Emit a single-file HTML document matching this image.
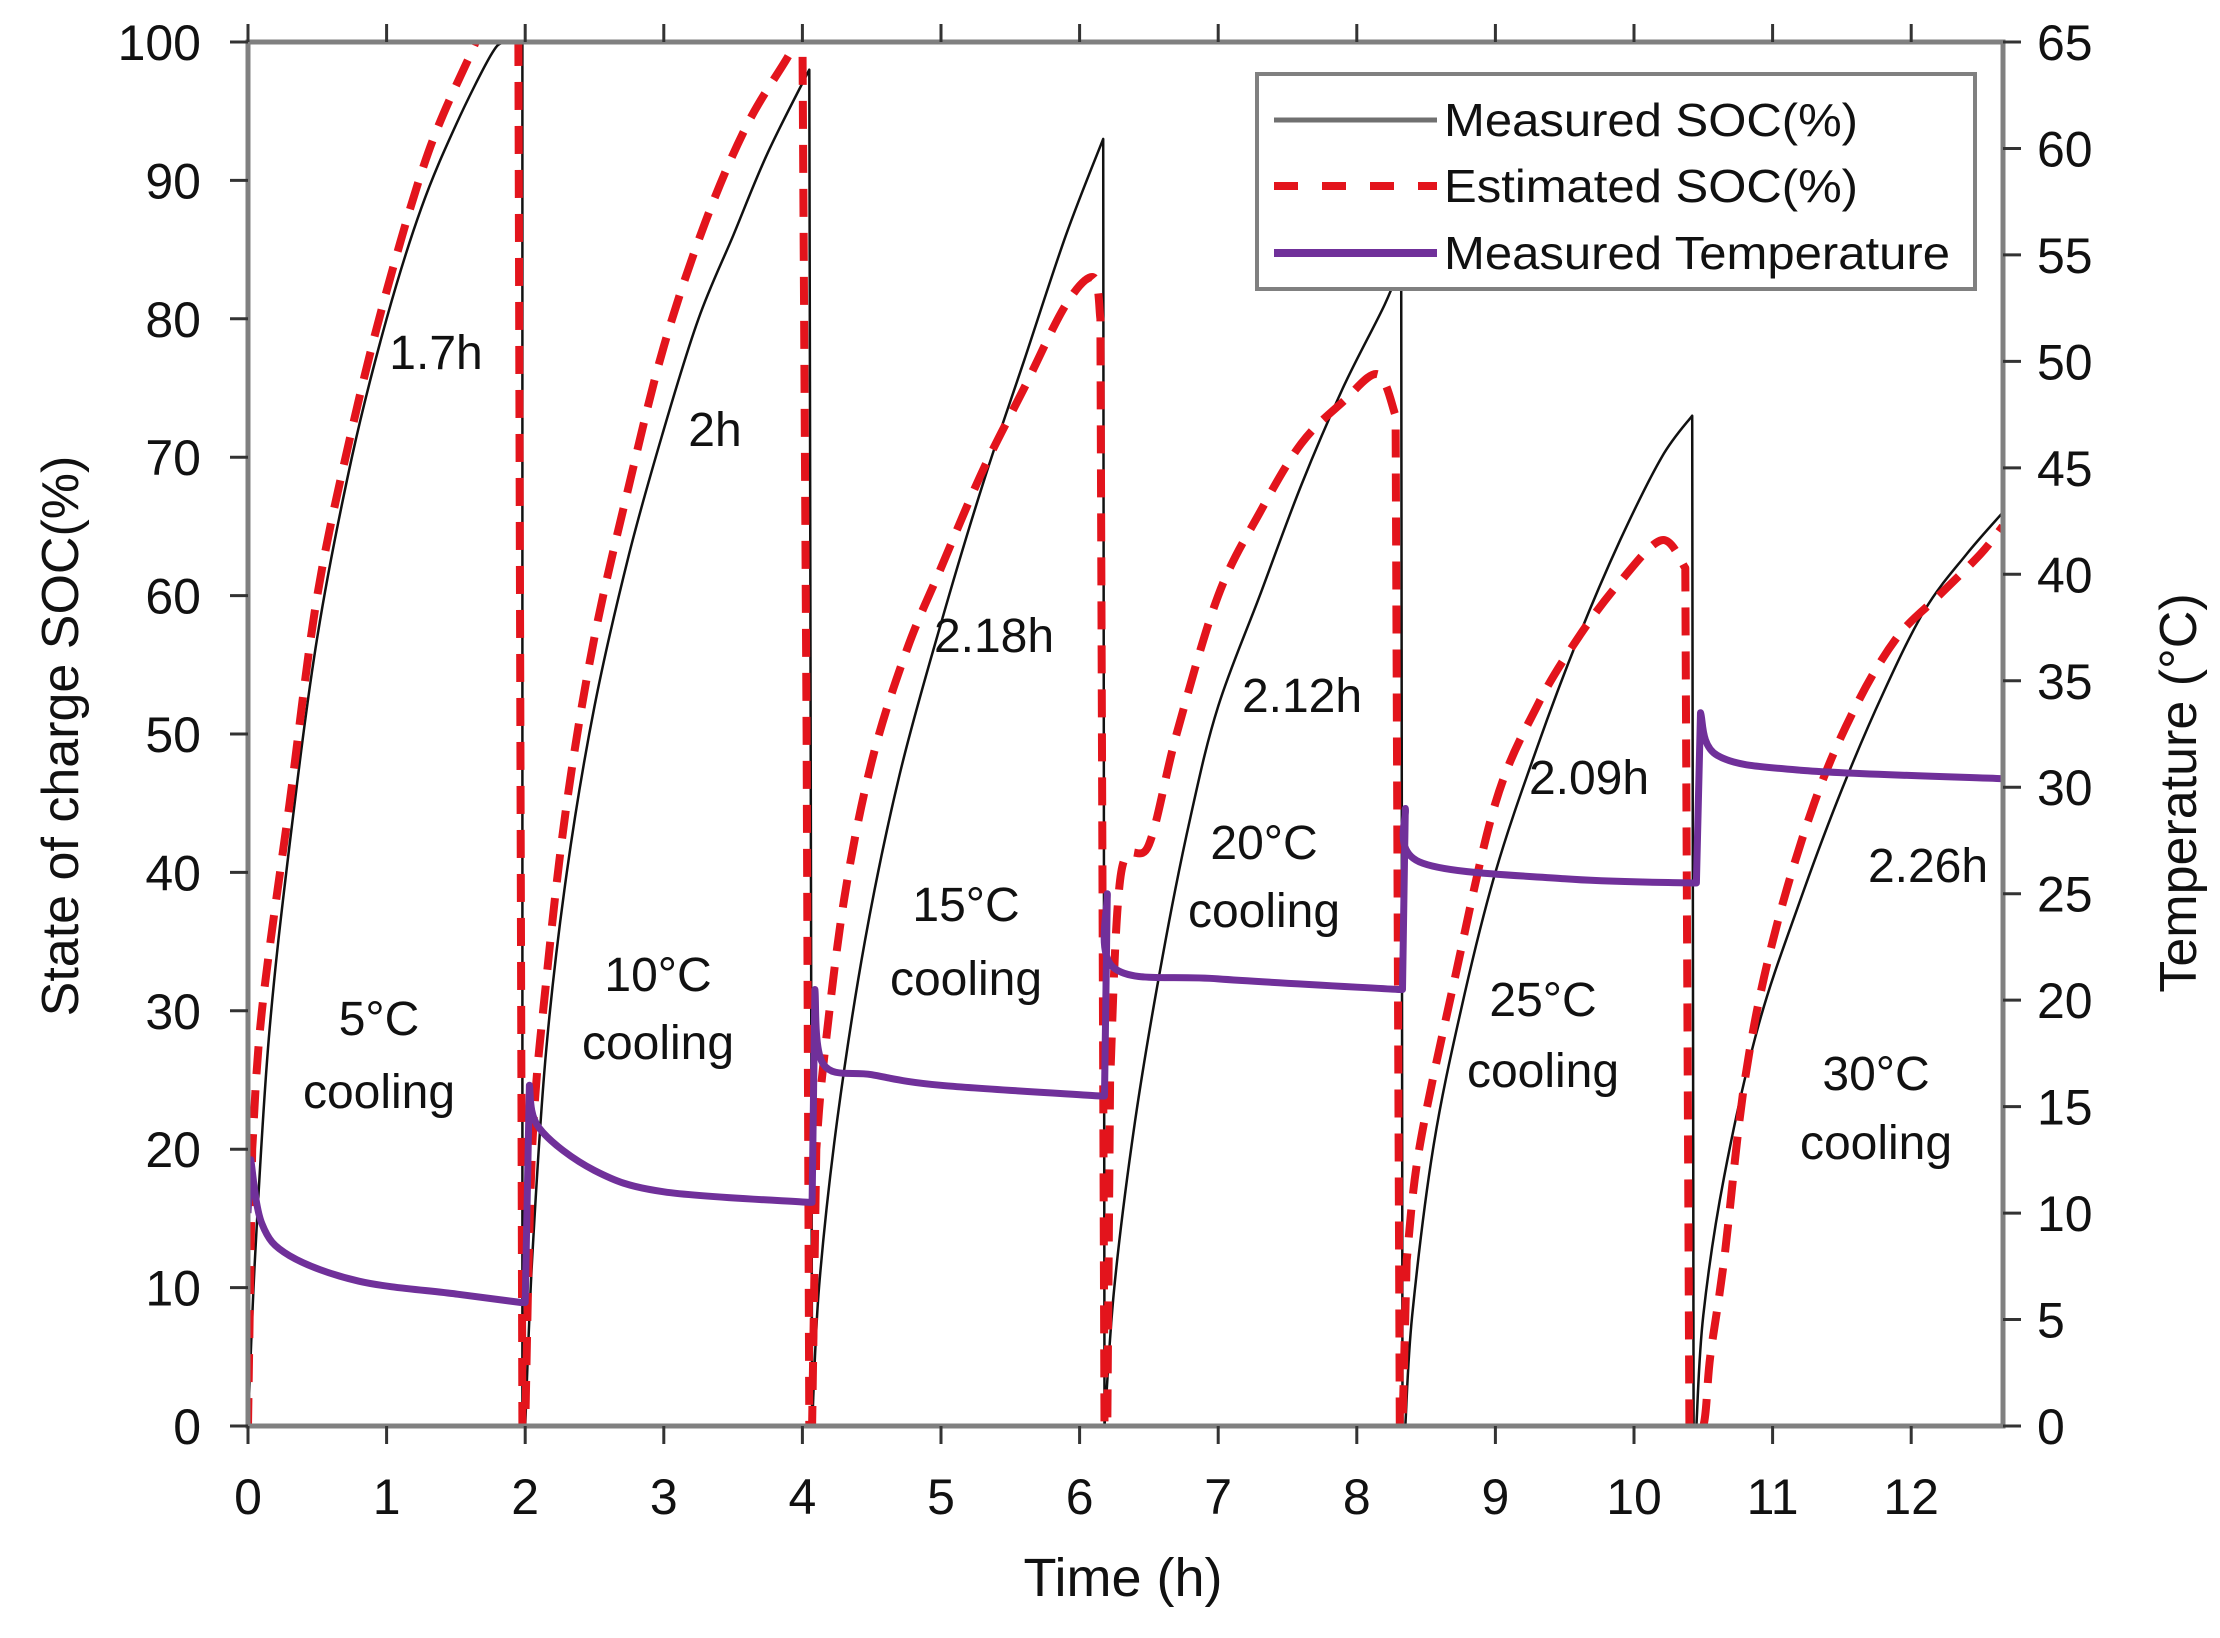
<!DOCTYPE html>
<html><head><meta charset="utf-8"><style>
html,body{margin:0;padding:0;background:#fff;}
svg{display:block;font-family:"Liberation Sans",Arial,sans-serif;}
</style></head><body>
<svg id="chart" width="2220" height="1638" viewBox="0 0 2220 1638" xmlns="http://www.w3.org/2000/svg">
<defs><clipPath id="plotclip"><rect x="248" y="42" width="1755" height="1384"/></clipPath></defs>
<rect x="0" y="0" width="2220" height="1638" fill="#fff"/>
<g id="series" clip-path="url(#plotclip)"></g>
<g id="axes"></g>
<g id="annots"></g>
<g id="legend">
  <rect x="1257" y="74" width="718" height="215" fill="#fff" stroke="#808080" stroke-width="4"/>
  <line x1="1274" y1="120" x2="1437" y2="120" stroke="#707070" stroke-width="5"/>
  <text x="1444" y="136" font-size="46" textLength="414" lengthAdjust="spacingAndGlyphs" fill="#111">Measured SOC(%)</text>
  <line x1="1274" y1="186" x2="1437" y2="186" stroke="#e3141c" stroke-width="8" stroke-dasharray="24,24"/>
  <text x="1444" y="202" font-size="46" textLength="414" lengthAdjust="spacingAndGlyphs" fill="#111">Estimated SOC(%)</text>
  <line x1="1274" y1="253" x2="1437" y2="253" stroke="#70309a" stroke-width="8"/>
  <text x="1444" y="269" font-size="46" textLength="506" lengthAdjust="spacingAndGlyphs" fill="#111">Measured Temperature</text>
</g>
</svg>
<script>
// ---- data ----
const xTicks = [0,1,2,3,4,5,6,7,8,9,10,11,12];
const yLeftTicks = [0,10,20,30,40,50,60,70,80,90,100];
const yRightTicks = [0,5,10,15,20,25,30,35,40,45,50,55,60,65];
const measuredT = [0,0.05,0.15,0.3,0.5,0.75,1.0,1.25,1.5,1.75,1.85,1.98,1.98,
  2.0,2.05,2.15,2.3,2.5,2.75,3.0,3.25,3.5,3.75,4.05,4.07,
  4.07,4.12,4.25,4.45,4.7,5.0,5.3,5.6,5.9,6.17,6.18,
  6.18,6.25,6.4,6.6,6.8,7.0,7.3,7.6,7.9,8.2,8.32,8.33,
  8.35,8.4,8.55,8.75,9.0,9.3,9.6,9.9,10.2,10.42,10.43,
  10.45,10.5,10.65,10.9,11.2,11.5,11.8,12.1,12.4,12.66];
const measuredSOC = [0,12,28,42,57,70,80,88,94,99,100,100,0,
  0,12,27,40,52,63,72,80,86,92,98,0,
  0,10,22,35,47,58,68,77,86,93,0,
  0,10,22,34,44,52,60,68,75,81,84,0,
  0,8,20,30,40,49,57,64,70,73,0,
  0,8,18,29,38,46,53,59,63,66];
const estimatedT = [0,0.03,0.1,0.3,0.5,0.75,1.0,1.3,1.6,1.75,1.95,1.98,
  2.0,2.05,2.15,2.3,2.5,2.75,3.0,3.3,3.6,3.9,4.0,4.03,4.05,
  4.07,4.1,4.15,4.3,4.5,4.75,5.0,5.3,5.6,5.9,6.1,6.15,6.18,
  6.2,6.22,6.3,6.5,6.7,7.0,7.3,7.6,7.9,8.15,8.28,8.31,
  8.33,8.36,8.45,8.7,9.0,9.3,9.6,9.9,10.2,10.37,10.4,
  10.5,10.55,10.65,10.8,11.0,11.3,11.6,11.9,12.2,12.5,12.66];
const estimatedSOC = [0,20,30,45,60,72,82,92,99,102,102,0,
  0,20,32,45,57,68,78,87,94,99,101,50,0,
  0,20,26,38,48,56,62,69,75,81,83,80,0,
  0,25,40,42,50,60,66,71,74,76,73,0,
  0,12,20,32,45,52,57,61,64,62,0,
  0,5,12,25,35,45,52,57,60,63,65];
const tempT = [0,0.02,0.1,0.3,0.8,1.5,1.97,
  2.0,2.03,2.1,2.5,3.0,4.05,
  4.07,4.09,4.15,4.5,5.0,6.15,
  6.18,6.2,6.25,7.0,8.3,
  8.33,8.35,8.45,9.5,10.42,
  10.45,10.48,10.6,11.2,12.66];
const tempC = [10,12.5,9.5,8,6.8,6.2,5.8,
  5.8,16,14,12,11,10.5,
  10.5,20.5,17,16.5,16,15.5,
  15.5,25,21.5,21,20.5,
  20.5,29,26.5,25.7,25.5,
  25.5,33.5,31.5,30.8,30.4];

// ---- scales ----
const X0=248, X1=2003, Y0=1426, Y1=42;
const sx = t => X0 + t*138.6;
const syL = v => Y0 - v*(Y0-Y1)/100;
const syR = v => Y0 - v*(Y0-Y1)/65;
const NS="http://www.w3.org/2000/svg";
function mk(tag, attrs, parent){const e=document.createElementNS(NS,tag);for(const k in attrs)e.setAttribute(k,attrs[k]);parent.appendChild(e);return e;}

const series=document.getElementById('series');
const axes=document.getElementById('axes');
const annots=document.getElementById('annots');

function pathFrom(ts, vs, sy){
  const pts=ts.map((t,i)=>[sx(t),sy(vs[i])]);
  const runs=[];let cur=[pts[0]];
  for(let i=1;i<pts.length;i++){
    if(ts[i]-ts[i-1]<0.035){runs.push(cur);cur=[pts[i]];}
    else cur.push(pts[i]);
  }
  runs.push(cur);
  const f=n=>n.toFixed(1);
  let d='';
  runs.forEach((r,k)=>{
    d+=(k===0?'M':' L')+f(r[0][0])+' '+f(r[0][1]);
    for(let i=0;i<r.length-1;i++){
      const p0=r[i-1]||r[i],p1=r[i],p2=r[i+1],p3=r[i+2]||r[i+1];
      const c1=[p1[0]+(p2[0]-p0[0])/6,p1[1]+(p2[1]-p0[1])/6];
      const c2=[p2[0]-(p3[0]-p1[0])/6,p2[1]-(p3[1]-p1[1])/6];
      d+=' C'+f(c1[0])+' '+f(c1[1])+' '+f(c2[0])+' '+f(c2[1])+' '+f(p2[0])+' '+f(p2[1]);
    }
  });
  return d;
}

const pm=mk('path',{d:pathFrom(measuredT,measuredSOC,syL),fill:'none',stroke:'#111',"stroke-width":2.5,"stroke-linejoin":'round'},series);


const pe=mk('path',{d:pathFrom(estimatedT,estimatedSOC,syL),fill:'none',stroke:'#e3141c',"stroke-width":8,"stroke-dasharray":'28,16',"stroke-linejoin":'round'},series);


const pt=mk('path',{d:pathFrom(tempT,tempC,syR),fill:'none',stroke:'#70309a',"stroke-width":7,"stroke-linejoin":'round'},series);



const fr=mk('rect',{x:X0,y:Y1,width:X1-X0,height:Y0-Y1,fill:'none',stroke:'#808080',"stroke-width":5},axes);



xTicks.forEach(t=>{
  const x=sx(t);
  mk('line',{x1:x,y1:Y0,x2:x,y2:Y0+18,stroke:'#333',"stroke-width":3},axes);
  mk('line',{x1:x,y1:Y1,x2:x,y2:Y1-18,stroke:'#333',"stroke-width":3},axes);
  const tx=mk('text',{x:x,y:Y0+88,"font-size":50,"text-anchor":'middle',fill:'#111'},axes);
  tx.textContent=t;
  
  
});
yLeftTicks.forEach(v=>{
  const y=syL(v);
  mk('line',{x1:X0,y1:y,x2:X0-18,y2:y,stroke:'#333',"stroke-width":3},axes);
  const tx=mk('text',{x:201,y:y+18,"font-size":50,"text-anchor":'end',fill:'#111'},axes);
  tx.textContent=v;
  
  
});
yRightTicks.forEach(v=>{
  const y=syR(v);
  mk('line',{x1:X1,y1:y,x2:X1+18,y2:y,stroke:'#333',"stroke-width":3},axes);
  const tx=mk('text',{x:2037,y:y+18,"font-size":50,"text-anchor":'start',fill:'#111'},axes);
  tx.textContent=v;
  
  
});

const xt=mk('text',{x:1123,y:1596,"font-size":54,"text-anchor":'middle',fill:'#111'},axes);
xt.textContent='Time (h)';


const yl=mk('text',{x:0,y:0,"font-size":52,"text-anchor":'middle',fill:'#111',transform:'translate(78,736) rotate(-90)'},axes);
yl.textContent='State of charge SOC(%)';


const yr=mk('text',{x:0,y:0,"font-size":52,"text-anchor":'middle',fill:'#111',transform:'translate(2196,793) rotate(-90)'},axes);
yr.textContent='Temperature (°C)';



const labels=[['1.7h',436,351],['2h',715,428],['2.18h',994,634],['2.12h',1302,694],['2.09h',1589,776],['2.26h',1928,864],
 ['5°C',379,1017],['cooling',379,1090],['10°C',658,973],['cooling',658,1041],['15°C',966,903],['cooling',966,977],
 ['20°C',1264,841],['cooling',1264,909],['25°C',1543,998],['cooling',1543,1069],['30°C',1876,1072],['cooling',1876,1141]];
labels.forEach(l=>{
  const tx=mk('text',{x:l[1],y:l[2]+18,"font-size":48,"text-anchor":'middle',fill:'#111'},annots);
  tx.textContent=l[0];
  
  
});
</script>
</body></html>
